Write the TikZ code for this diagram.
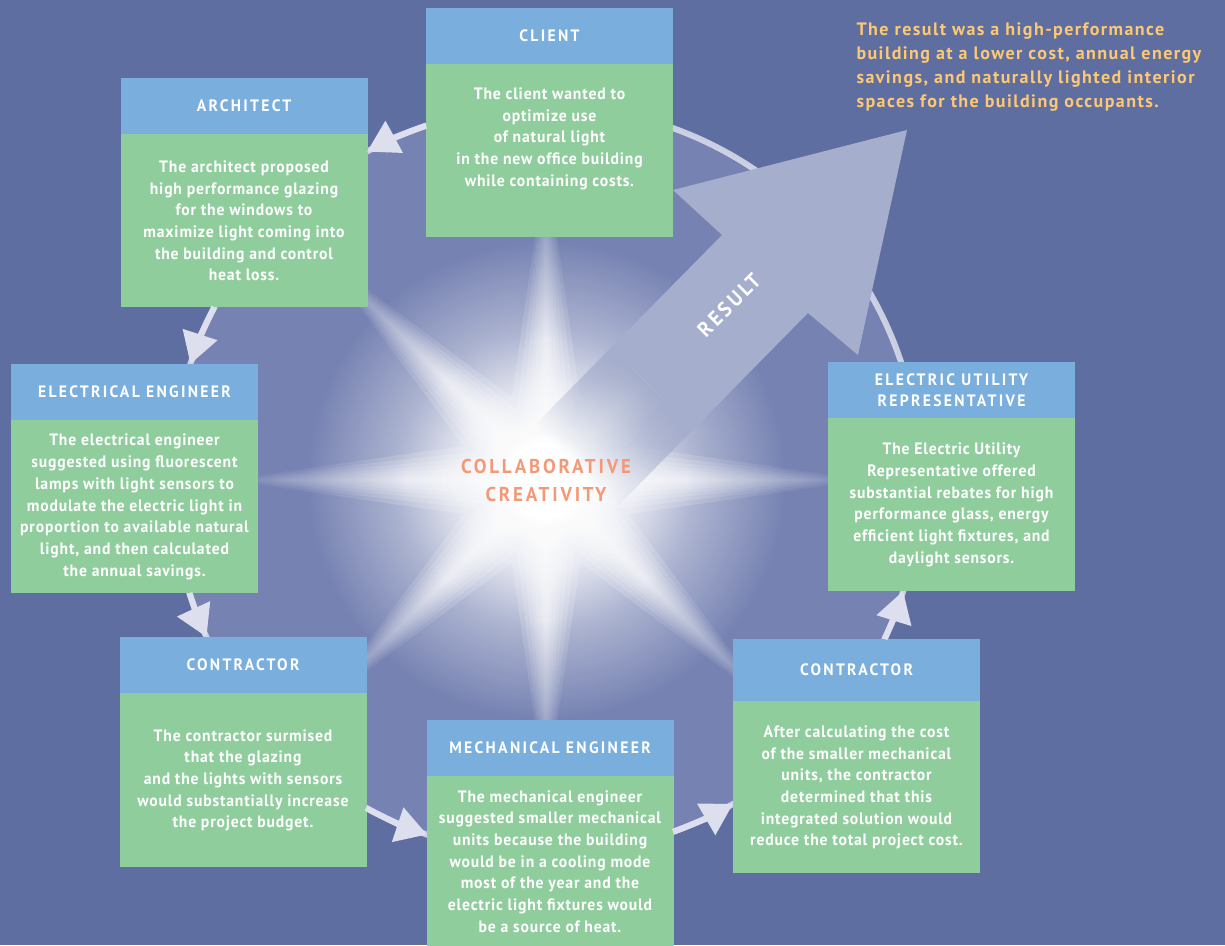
\documentclass[tikz,border=0pt]{standalone}
\usepackage{fontspec}
\setmainfont{PT Sans}[FakeStretch=0.95,LetterSpace=5]
\newfontfamily\capsfont{PT Sans}[FakeStretch=0.95,LetterSpace=14]
\newfontfamily\titlefont{PT Sans}[LetterSpace=8]
\usetikzlibrary{positioning,arrows.meta,fadings}

\definecolor{bgblue}{RGB}{95,110,161}
\definecolor{diskblue}{RGB}{118,130,178}
\definecolor{headblue}{RGB}{122,174,221}
\definecolor{bodygreen}{RGB}{143,205,156}
\definecolor{ringgrey}{RGB}{221,223,238}
\definecolor{resultgrey}{RGB}{165,174,204}
\definecolor{titleorange}{RGB}{252,200,115}
\definecolor{salmon}{RGB}{244,152,118}

\pgfdeclareradialshading{diskglow}{\pgfpoint{0bp}{0bp}}{color(0bp)=(white); color(2.5bp)=(white); color(6bp)=(white!80!diskblue); color(10bp)=(white!40!diskblue); color(16bp)=(diskblue); color(50bp)=(diskblue)}
\pgfdeclareradialshading{rayglow}{\pgfpoint{0bp}{0bp}}{color(0bp)=(white); color(11bp)=(white); color(25bp)=(diskblue); color(50bp)=(diskblue)}

\begin{tikzfadingfrompicture}[name=shaftfade]
	\fill[transparent!100] (-600pt,-600pt) rectangle (600pt,600pt);
	\shade[left color=transparent!100, right color=transparent!0] (30pt,-600pt) rectangle (140pt,600pt);
	\fill[transparent!0] (140pt,-600pt) rectangle (600pt,600pt);
\end{tikzfadingfrompicture}

\begin{document}
\begin{tikzpicture}[x=1pt,y=-1pt,
	head/.style={rectangle, fill=headblue, minimum width=247pt, inner sep=0pt, text=white, align=center,
		font=\capsfont\bfseries\fontsize{16.5}{21}\selectfont},
	body/.style={rectangle, fill=bodygreen, minimum width=247pt, minimum height=173pt, inner sep=0pt, text=white, align=center,
		font=\bfseries\fontsize{16.5}{21.7}\selectfont},
	ring/.style={draw=ringgrey, line width=6pt},
	flow/.style={ring, -{Triangle[length=31pt,width=35pt]}}
	]
	\fill[bgblue] (0,0) rectangle (1225,945);
	\useasboundingbox (0,0) rectangle (1225,945);
	\coordinate (hub) at (546,480);

	% glow and rays
	\shade[shading=diskglow] (hub) circle[radius=374];
	\foreach \w in {46,37,29,22,16,10,5}{
		\shade[shading=rayglow, opacity=.17, shift={(hub)}]
			\foreach \a in {0,45,...,315}{ ({\a+90}:\w) -- (\a:320) -- ({\a-90}:\w) -- cycle };
	}
	\draw[ring, opacity=.85] (hub) circle[radius=374];

	\fill[resultgrey, path fading=shaftfade, fit fading=false, fading transform={shift={(hub)}, rotate=45}]
		(519,441) -- (722,235) -- (673,190) -- (907,130) -- (858,355) -- (808,313) -- (605,519) -- cycle;
	\node[rotate=45, text=white, font=\capsfont\bfseries\fontsize{21}{24}\selectfont] (result) at (729,305) {RESULT};

	\node[text=salmon, align=center, font=\capsfont\bfseries\fontsize{20}{28}\selectfont] (creativity) at (hub) {COLLABORATIVE\\CREATIVITY};

	\node[anchor=north west, align=left, text=titleorange, font=\titlefont\bfseries\fontsize{18}{24}\selectfont] (outcome) at (853,19)
		{The result was a high-performance\\building at a lower cost, annual energy\\savings, and naturally lighted interior\\spaces for the building occupants.};

	% the seven players
	\node[head, minimum height=56pt] (clienthead) at (549.5,36) {CLIENT};
	\node[body, below=0pt of clienthead] (clientbody) {The client wanted to\\optimize use\\of natural light\\in the new office building\\while containing costs.\\[6pt]\mbox{}};

	\node[head, minimum height=56pt] (archhead) at (244,106) {ARCHITECT};
	\node[body, below=0pt of archhead] (archbody) {The architect proposed\\high performance glazing\\for the windows to\\maximize light coming into\\the building and control\\heat loss.};

	\node[head, minimum height=56pt] (elechead) at (134.5,392) {ELECTRICAL ENGINEER};
	\node[body, below=0pt of elechead] (elecbody) {The electrical engineer\\suggested using fluorescent\\lamps with light sensors to\\modulate the electric light in\\proportion to available natural\\light, and then calculated\\the annual savings.};

	\node[head, minimum height=56pt] (conhead) at (243,665) {CONTRACTOR};
	\node[body, below=0pt of conhead, minimum height=174pt] (conbody) {The contractor surmised\\that the glazing\\and the lights with sensors\\would substantially increase\\the project budget.};

	\node[head, minimum height=56pt] (mechhead) at (550,748) {MECHANICAL ENGINEER};
	\node[body, below=0pt of mechhead, minimum height=170pt] (mechbody) {The mechanical engineer\\suggested smaller mechanical\\units because the building\\would be in a cooling mode\\most of the year and the\\electric light fixtures would\\be a source of heat.};

	\node[head, minimum height=62pt] (costhead) at (856.5,670) {CONTRACTOR};
	\node[body, below=0pt of costhead, minimum height=172pt] (costbody) {After calculating the cost\\of the smaller mechanical\\units, the contractor\\determined that this\\integrated solution would\\reduce the total project cost.};

	\node[head, minimum height=56pt] (utilhead) at (951.5,390) {ELECTRIC UTILITY\\REPRESENTATIVE};
	\node[body, below=0pt of utilhead] (utilbody) {The Electric Utility\\Representative offered\\substantial rebates for high\\performance glass, energy\\efficient light fixtures, and\\daylight sensors.};

	% arrows along the ring
	\draw[flow] ([shift={(-108.7:374)}]hub) arc[start angle=-108.7, end angle=-118.6, radius=374];
	\draw[flow] ([shift={(-152.45:374)}]hub) arc[start angle=-152.45, end angle=-161.93, radius=374];
	\draw[flow] ([shift={(162.42:374)}]hub) arc[start angle=162.42, end angle=155.18, radius=374];
	\draw[flow] ([shift={(118.77:374)}]hub) arc[start angle=118.77, end angle=108.55, radius=374];
	\draw[flow] ([shift={(70.15:374)}]hub) arc[start angle=70.15, end angle=60, radius=374];
	\draw[flow] ([shift={(25.16:374)}]hub) arc[start angle=25.16, end angle=17.27, radius=374];
\end{tikzpicture}
\end{document}
